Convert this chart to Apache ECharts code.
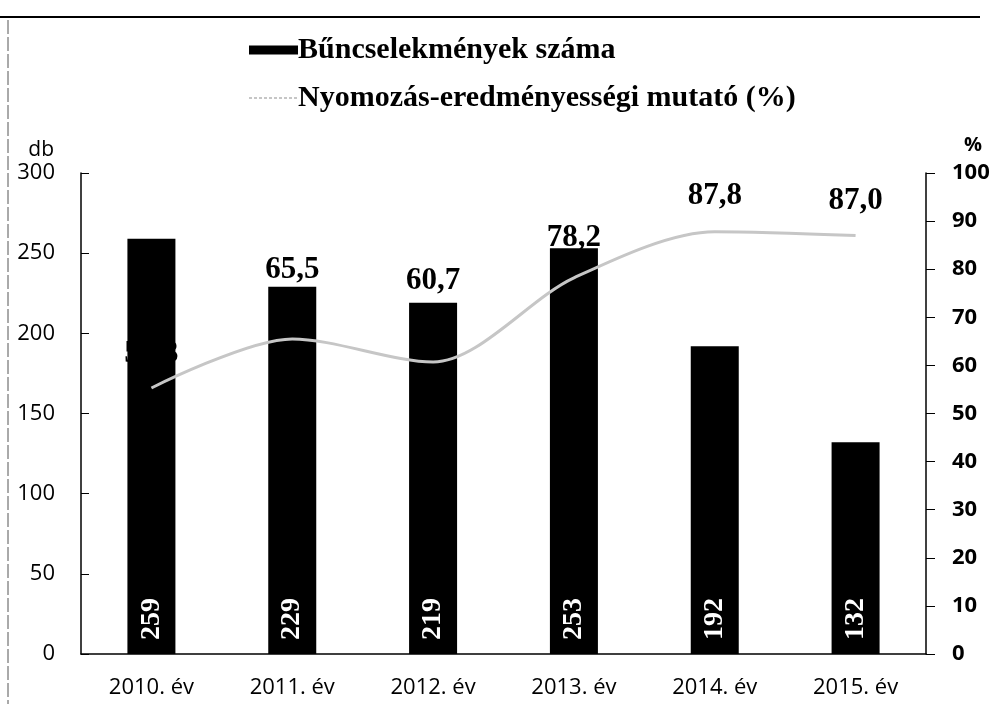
<!DOCTYPE html>
<html>
<head>
<meta charset="utf-8">
<script src="https://cdn.jsdelivr.net/npm/echarts@6/dist/echarts.min.js"></script>
<style>
  html, body { margin: 0; padding: 0; background: #fff; }
  #chart { width: 995px; height: 704px; }
</style>
</head>
<body>
<div id="chart"></div>
<script>
var years = ['2010. év', '2011. év', '2012. év', '2013. év', '2014. év', '2015. év'];
var crimes = [259, 229, 219, 253, 192, 132];
var rate = [55.3, 65.5, 60.7, 78.2, 87.8, 87.0];

// label distance above the line point (moved by hand in the original)
var rateLabelGap = [18, 53, 65, 24, 20, 19];

var serif = 'Liberation Serif';
var sans = 'Open Sans';
var lineGrey = '#c6c6c6';

var chart = echarts.init(document.getElementById('chart'));

chart.setOption({
  animation: false,
  legend: {
    orient: 'vertical',
    left: 243,
    top: 30,
    itemWidth: 49,
    itemHeight: 9,
    itemGap: 18,
    textStyle: { fontFamily: serif, fontWeight: 'bold', fontSize: 30, color: '#000', padding: [0, 0, 0, -5] },
    data: [
      { name: 'Bűncselekmények száma', icon: 'rect' },
      {
        name: 'Nyomozás-eredményességi mutató (%)',
        itemStyle: { opacity: 0 },
        lineStyle: { color: lineGrey, width: 2, type: [3, 2] }
      }
    ]
  },
  grid: { left: 81, right: 69, top: 173, bottom: 50 },
  xAxis: {
    type: 'category',
    data: years,
    axisLine: { lineStyle: { color: '#000', width: 1.5 } },
    axisTick: { show: false },
    axisLabel: { fontFamily: sans, fontSize: 22, color: '#000', margin: 23 }
  },
  yAxis: [
    {
      type: 'value',
      min: 0, max: 300, interval: 50,
      name: 'db',
      nameLocation: 'end',
      nameGap: 12,
      nameTextStyle: { fontFamily: sans, fontSize: 21, color: '#000', align: 'right', padding: [0, 27, 0, 0] },
      axisLine: { show: true, lineStyle: { color: '#000', width: 1.5 } },
      axisTick: { show: true, inside: true, length: 8, lineStyle: { color: '#000' } },
      axisLabel: { fontFamily: sans, fontSize: 22, color: '#000', margin: 26 },
      splitLine: { show: false }
    },
    {
      type: 'value',
      min: 0, max: 100, interval: 10,
      name: '%',
      nameLocation: 'end',
      nameGap: 18,
      nameTextStyle: { fontFamily: sans, fontWeight: 'bold', fontSize: 20, color: '#000', align: 'left', padding: [0, 0, 0, 38] },
      axisLine: { show: true, lineStyle: { color: '#000', width: 1.5 } },
      axisTick: { show: true, inside: false, length: 9, lineStyle: { color: '#000' } },
      axisLabel: { fontFamily: sans, fontWeight: 'bold', fontSize: 22, color: '#000', margin: 26 },
      splitLine: { show: false }
    }
  ],
  series: [
    {
      name: 'Bűncselekmények száma',
      type: 'bar',
      barWidth: 48,
      data: crimes,
      itemStyle: { color: '#000' },
      label: {
        show: true,
        position: 'insideBottom',
        rotate: 90,
        align: 'left',
        verticalAlign: 'middle',
        distance: 14,
        fontFamily: serif,
        fontWeight: 'bold',
        fontSize: 28,
        color: '#fff'
      }
    },
    {
      name: 'Nyomozás-eredményességi mutató (%)',
      type: 'line',
      yAxisIndex: 1,
      smooth: 0.3,
      symbol: 'circle',
      symbolSize: 0.1,
      showSymbol: true,
      z: 5,
      lineStyle: { color: lineGrey, width: 3 },
      itemStyle: { color: lineGrey },
      data: rate.map(function (v, i) {
        return {
          value: v,
          label: { distance: rateLabelGap[i] }
        };
      }),
      label: {
        show: true,
        position: 'top',
        fontFamily: serif,
        fontWeight: 'bold',
        fontSize: 31,
        color: '#000',
        formatter: function (p) { return p.value.toFixed(1).replace('.', ','); }
      }
    }
  ],
  graphic: [
    { type: 'line', shape: { x1: 0, y1: 17, x2: 980, y2: 17 }, style: { stroke: '#000', lineWidth: 2 } },
    { type: 'line', shape: { x1: 8, y1: 20, x2: 8, y2: 704 }, style: { stroke: '#555', lineWidth: 1, lineDash: [14, 3] } }
  ]
});
</script>
</body>
</html>
